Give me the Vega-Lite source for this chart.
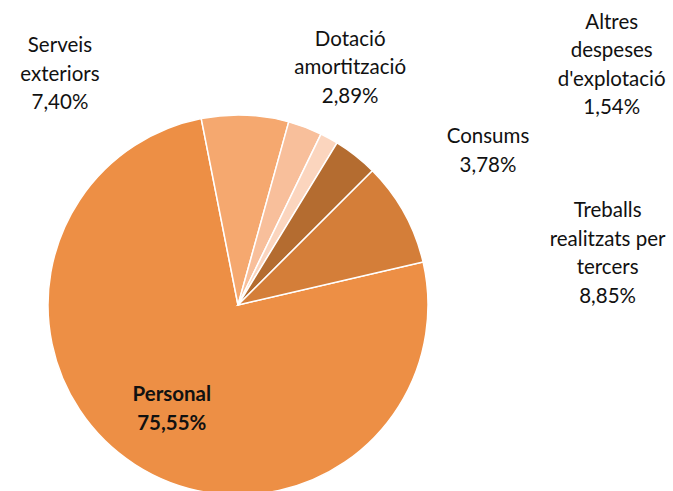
{
  "$schema": "https://vega.github.io/schema/vega-lite/v6.json",
  "width": 476,
  "height": 610,
  "padding": {"left": 0, "top": 0, "right": 197, "bottom": 0},
  "autosize": {"type": "none"},
  "background": "white",
  "view": {"stroke": null},
  "config": {"text": {"font": "Lato", "fontSize": 20.5, "lineHeight": 28.5, "align": "center", "baseline": "middle", "color": "#111111"}},
  "data": {"values": [
    {"cat": "Personal", "value": 75.55, "ord": 1, "label": ["Personal", "75,55%"]},
    {"cat": "Serveis exteriors", "value": 7.40, "ord": 2, "label": ["Serveis", "exteriors", "7,40%"]},
    {"cat": "Dotació amortització", "value": 2.89, "ord": 3, "label": ["Dotació", "amortització", "2,89%"]},
    {"cat": "Altres despeses d'explotació", "value": 1.54, "ord": 4, "label": ["Altres", "despeses", "d'explotació", "1,54%"]},
    {"cat": "Consums", "value": 3.78, "ord": 5, "label": ["Consums", "3,78%"]},
    {"cat": "Treballs realitzats per tercers", "value": 8.85, "ord": 6, "label": ["Treballs", "realitzats per", "tercers", "8,85%"]}
  ]},
  "encoding": {
    "theta": {"field": "value", "type": "quantitative", "stack": true, "scale": {"range": [1.342, 7.6252]}},
    "order": {"field": "ord", "type": "quantitative"}
  },
  "layer": [
    {
      "mark": {"type": "arc", "outerRadius": 190, "stroke": "white", "strokeWidth": 1.5},
      "encoding": {
        "color": {
          "field": "cat", "type": "nominal", "legend": null,
          "scale": {
            "domain": ["Personal", "Serveis exteriors", "Dotació amortització", "Altres despeses d'explotació", "Consums", "Treballs realitzats per tercers"],
            "range": ["#ED8F45", "#F5A86F", "#F8BF9B", "#FBD5BE", "#B46C30", "#D47E39"]
          }
        }
      }
    },
    {
      "mark": {"type": "text", "radius": 122, "dx": 0, "dy": -12, "fontWeight": "bold"},
      "encoding": {"text": {"condition": {"test": "datum.cat === 'Personal'", "field": "label"}, "value": ""}}
    },
    {
      "mark": {"type": "text", "radius": 210, "dx": -186, "dy": -49},
      "encoding": {"text": {"condition": {"test": "datum.cat === 'Serveis exteriors'", "field": "label"}, "value": ""}}
    },
    {
      "mark": {"type": "text", "radius": 210, "dx": 38, "dy": -69},
      "encoding": {"text": {"condition": {"test": "datum.cat === 'Dotació amortització'", "field": "label"}, "value": ""}}
    },
    {
      "mark": {"type": "text", "radius": 210, "dx": 273, "dy": -98},
      "encoding": {"text": {"condition": {"test": "datum.cat === \"Altres despeses d'explotació\"", "field": "label"}, "value": ""}}
    },
    {
      "mark": {"type": "text", "radius": 210, "dx": 120, "dy": -3},
      "encoding": {"text": {"condition": {"test": "datum.cat === 'Consums'", "field": "label"}, "value": ""}}
    },
    {
      "mark": {"type": "text", "radius": 210, "dx": 186, "dy": 8},
      "encoding": {"text": {"condition": {"test": "datum.cat === 'Treballs realitzats per tercers'", "field": "label"}, "value": ""}}
    }
  ]
}
